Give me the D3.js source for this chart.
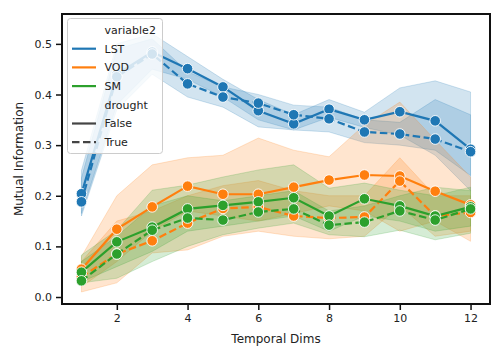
<!DOCTYPE html>
<html><head><meta charset="utf-8">
<script src="https://cdn.jsdelivr.net/npm/d3@7"></script>
<style>body{margin:0;background:#fff}svg{display:block}text{font-family:"DejaVu Sans",sans-serif;fill:#222}</style>
</head><body><svg id="c" width="504" height="360"></svg>
<script>
const dims = [1,2,3,4,5,6,7,8,9,10,11,12];
const variables = ["LST","VOD","SM"];
const droughtLevels = ["False","True"];
const yTicks = [0.0,0.1,0.2,0.3,0.4,0.5];
const xTicks = [2,4,6,8,10,12];

const lstFalse = [0.204,0.440,0.484,0.451,0.415,0.368,0.342,0.371,0.350,0.366,0.348,0.292];
const lstTrue  = [0.188,0.435,0.480,0.421,0.395,0.383,0.360,0.352,0.326,0.322,0.312,0.287];
const vodFalse = [0.055,0.134,0.178,0.219,0.203,0.203,0.217,0.231,0.241,0.239,0.209,0.182];
const vodTrue  = [0.040,0.085,0.111,0.146,0.175,0.178,0.160,0.156,0.158,0.229,0.160,0.167];
const smFalse  = [0.049,0.109,0.138,0.174,0.181,0.188,0.196,0.160,0.194,0.180,0.160,0.178];
const smTrue   = [0.032,0.085,0.132,0.156,0.152,0.168,0.174,0.142,0.148,0.170,0.152,0.174];

const lstFalseLo = [0.165,0.38,0.45,0.43,0.395,0.35,0.33,0.355,0.335,0.32,0.28,0.21];
const lstFalseHi = [0.25,0.50,0.52,0.475,0.43,0.39,0.36,0.39,0.365,0.413,0.427,0.405];
const lstTrueLo  = [0.16,0.37,0.44,0.395,0.375,0.336,0.33,0.326,0.305,0.30,0.29,0.24];
const lstTrueHi  = [0.235,0.49,0.51,0.445,0.415,0.40,0.379,0.375,0.35,0.345,0.39,0.36];
const vodFalseLo = [0.02,0.07,0.13,0.17,0.16,0.15,0.165,0.18,0.17,0.13,0.15,0.11];
const vodFalseHi = [0.08,0.20,0.261,0.275,0.28,0.314,0.29,0.277,0.34,0.385,0.31,0.237];
const vodTrueLo  = [0.01,0.028,0.087,0.093,0.12,0.13,0.12,0.115,0.12,0.18,0.12,0.13];
const vodTrueHi  = [0.07,0.15,0.17,0.20,0.22,0.23,0.21,0.20,0.20,0.275,0.20,0.20];
const smFalseLo  = [0.03,0.06,0.09,0.13,0.14,0.15,0.16,0.13,0.16,0.15,0.13,0.14];
const smFalseHi  = [0.083,0.132,0.211,0.221,0.237,0.251,0.261,0.215,0.225,0.211,0.20,0.217];
const smTrueLo   = [0.028,0.037,0.07,0.10,0.123,0.136,0.146,0.123,0.119,0.132,0.113,0.126];
const smTrueHi   = [0.07,0.12,0.18,0.20,0.19,0.20,0.21,0.17,0.18,0.20,0.217,0.21];

const series = [
  {v:"LST", d:"False", mean:lstFalse, lo:lstFalseLo, hi:lstFalseHi},
  {v:"LST", d:"True",  mean:lstTrue,  lo:lstTrueLo,  hi:lstTrueHi},
  {v:"VOD", d:"False", mean:vodFalse, lo:vodFalseLo, hi:vodFalseHi},
  {v:"VOD", d:"True",  mean:vodTrue,  lo:vodTrueLo,  hi:vodTrueHi},
  {v:"SM",  d:"False", mean:smFalse,  lo:smFalseLo,  hi:smFalseHi},
  {v:"SM",  d:"True",  mean:smTrue,   lo:smTrueLo,   hi:smTrueHi}
];
const color = d3.scaleOrdinal().domain(variables).range(["#1f77b4","#ff7f0e","#2ca02c"]);
const dash = d3.scaleOrdinal().domain(droughtLevels).range(["none","7.5,3.5"]);

const svg = d3.select("#c");
const L=62, R=490, T=14, B=304;
const x = d3.scaleLinear().domain([0.45,12.55]).range([L,R]);
const y = d3.scaleLinear().domain([-0.0138,0.559]).range([B,T]);

const gBand = svg.append("g");
const gLine = svg.append("g");
series.forEach(s=>{
  const pts = dims.map((t,i)=>({t, m:s.mean[i], lo:s.lo[i], hi:s.hi[i]}));
  gBand.append("path").datum(pts)
    .attr("d", d3.area().x(p=>x(p.t)).y0(p=>y(p.lo)).y1(p=>y(p.hi)))
    .attr("fill", color(s.v)).attr("fill-opacity",0.2)
    .attr("stroke", color(s.v)).attr("stroke-opacity",0.2).attr("stroke-width",1);
  const g = gLine.append("g");
  g.append("path").datum(pts)
    .attr("d", d3.line().x(p=>x(p.t)).y(p=>y(p.m)))
    .attr("fill","none").attr("stroke", color(s.v)).attr("stroke-width",2.2)
    .attr("stroke-dasharray", dash(s.d));
  g.selectAll("circle").data(pts).join("circle")
    .attr("cx",p=>x(p.t)).attr("cy",p=>y(p.m)).attr("r",5.3)
    .attr("fill", color(s.v)).attr("stroke","#fff").attr("stroke-width",0.9);
});

// axes
const xa = svg.append("g").attr("transform",`translate(0,${B})`)
  .call(d3.axisBottom(x).tickValues(xTicks).tickSize(6).tickPadding(4).tickFormat(d3.format("d")));
const ya = svg.append("g").attr("transform",`translate(${L},0)`)
  .call(d3.axisLeft(y).tickValues(yTicks).tickSize(6).tickPadding(4).tickFormat(d3.format(".1f")));
[xa,ya].forEach(a=>{
  a.select(".domain").remove();
  a.selectAll("line").attr("stroke","#111").attr("stroke-width",1.5);
  a.selectAll("text").attr("font-size",11).attr("fill","#222").style("font-family","DejaVu Sans");
});
svg.append("rect").attr("x",L).attr("y",T).attr("width",R-L).attr("height",B-T)
  .attr("fill","none").attr("stroke","#111").attr("stroke-width",2);

svg.append("text").attr("x",(L+R)/2).attr("y",343).attr("text-anchor","middle")
  .attr("font-size",12).text("Temporal Dims");
svg.append("text").attr("transform",`translate(23,${(T+B)/2}) rotate(-90)`).attr("text-anchor","middle")
  .attr("font-size",12).text("Mutual Information");

// legend
const lg = svg.append("g");
lg.append("rect").attr("x",67.5).attr("y",18.5).attr("width",95).attr("height",135).attr("rx",3)
  .attr("fill","#fff").attr("fill-opacity",0.8).attr("stroke","#ccc").attr("stroke-width",1);
const entries = [
  {label:"variable2"},
  ...variables.map(v=>({label:v, col:color(v), dash:"none"})),
  {label:"drought"},
  ...droughtLevels.map(d=>({label:d, col:"#444", dash:dash(d)}))
];
entries.forEach((e,i)=>{
  const yy = 30 + i*18.7;
  if(e.col) lg.append("line").attr("x1",72).attr("x2",96).attr("y1",yy).attr("y2",yy)
    .attr("stroke",e.col).attr("stroke-width",2.2).attr("stroke-dasharray",e.dash);
  lg.append("text").attr("x",104.5).attr("y",yy).attr("dy","0.35em").attr("font-size",11).text(e.label);
});
</script></body></html>
